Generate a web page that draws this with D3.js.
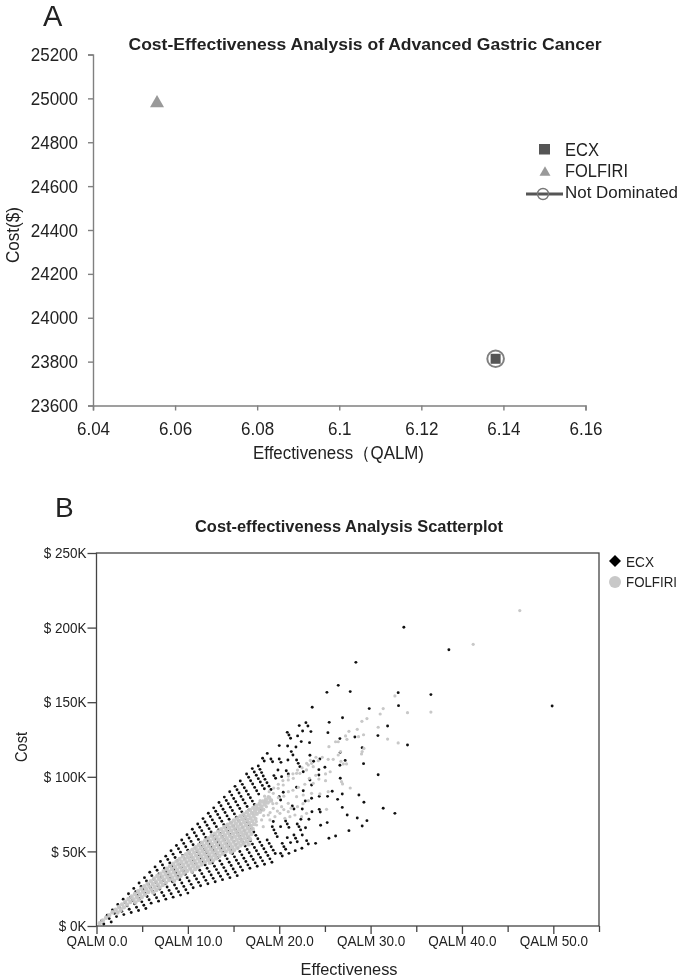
<!DOCTYPE html>
<html><head><meta charset="utf-8">
<script src="https://cdn.jsdelivr.net/npm/d3@7/dist/d3.min.js"></script>
<style>
html,body{margin:0;padding:0;background:#fff}
svg{display:block;filter:blur(0.3px)}
text{font-family:"Liberation Sans",Arial,sans-serif;fill:#222}
</style></head><body><svg id="c" width="685" height="980"></svg>
<script>
// Panel A
const titleA="Cost-Effectiveness  Analysis of Advanced Gastric  Cancer";
const xTicksA=[6.04,6.06,6.08,6.1,6.12,6.14,6.16];
const yTicksA=[23600,23800,24000,24200,24400,24600,24800,25000,25200];
const ecxA=[6.1381,23813];
const folfiriA=[6.0556,24978];
const legendA=["ECX","FOLFIRI","Not Dominated"];
// Panel B
const titleB="Cost-effectiveness Analysis Scatterplot";
const xMajorB=[0,10,20,30,40,50];
const xMinorB=[5,15,25,35,45,55];
const yTicksB=[0,50,100,150,200,250];
const legendB=["ECX","FOLFIRI"];
// ECX: [effectiveness in QALM, cost in $K]
const ecxLattice=[[.58,3.6],[.8,1.35],[1.17,7.2],[1.39,4.95],[1.61,2.7],[1.75,10.8],[1.97,8.55],[2.19,6.3],
[2.33,14.4],[2.55,12.15],[2.77,9.9],[2.99,7.65],[2.92,18],[3.14,15.75],[3.36,13.5],[3.58,11.25],[3.8,9],
[3.5,21.6],[3.72,19.35],[3.94,17.1],[4.16,14.85],[4.38,12.6],[4.6,10.35],
[4.08,25.2],[4.3,22.95],[4.52,20.7],[4.74,18.45],[4.96,16.2],[5.18,13.95],[5.4,11.7],
[4.66,28.8],[4.88,26.55],[5.1,24.3],[5.32,22.05],[5.54,19.8],[5.76,17.55],[5.98,15.3],
[5.25,32.4],[5.47,30.15],[5.69,27.9],[5.91,25.65],[6.13,23.4],[6.35,21.15],[6.57,18.9],[6.79,16.65],
[5.83,36],[6.05,33.75],[6.27,31.5],[6.49,29.25],[6.71,27],[6.93,24.75],[7.15,22.5],[7.37,20.25],[7.59,18],
[6.41,39.6],[6.63,37.35],[6.85,35.1],[7.07,32.85],[7.29,30.6],[7.51,28.35],[7.73,26.1],[7.95,23.85],[8.17,21.6],[8.39,19.35],
[7,43.2],[7.22,40.95],[7.44,38.7],[7.66,36.45],[7.88,34.2],[8.1,31.95],[8.32,29.7],[8.54,27.45],[8.76,25.2],[8.98,22.95],[9.2,20.7],
[7.58,46.8],[7.8,44.55],[8.02,42.3],[8.24,40.05],[8.46,37.8],[8.68,35.55],[8.9,33.3],[9.12,31.05],[9.34,28.8],[9.56,26.55],[9.78,24.3],[10,22.05],
[8.16,50.4],[8.38,48.15],[8.6,45.9],[8.82,43.65],[9.04,41.4],[9.26,39.15],[9.48,36.9],[9.7,34.65],[9.92,32.4],[10.14,30.15],[10.36,27.9],[10.58,25.65],
[8.75,54],[8.97,51.75],[9.19,49.5],[9.41,47.25],[9.63,45],[9.85,42.75],[10.07,40.5],[10.29,38.25],[10.51,36],[10.73,33.75],[10.95,31.5],[11.17,29.25],[11.39,27],
[9.33,57.6],[9.55,55.35],[9.77,53.1],[9.99,50.85],[10.21,48.6],[10.43,46.35],[10.65,44.1],[10.87,41.85],[11.09,39.6],[11.31,37.35],[11.53,35.1],[11.75,32.85],[11.97,30.6],[12.19,28.35],
[9.91,61.2],[10.13,58.95],[10.35,56.7],[10.57,54.45],[10.79,52.2],[11.01,49.95],[11.23,47.7],[11.45,45.45],[11.67,43.2],[11.89,40.95],[12.11,38.7],[12.33,36.45],[12.55,34.2],[12.77,31.95],[12.99,29.7],
[10.49,64.8],[10.71,62.55],[10.93,60.3],[11.15,58.05],[11.37,55.8],[11.59,53.55],[11.81,51.3],[12.03,49.05],[12.25,46.8],[12.47,44.55],[12.69,42.3],[12.91,40.05],[13.13,37.8],[13.35,35.55],[13.57,33.3],[13.79,31.05],
[11.08,68.4],[11.3,66.15],[11.52,63.9],[11.74,61.65],[11.96,59.4],[12.18,57.15],[12.4,54.9],[12.62,52.65],[12.84,50.4],[13.06,48.15],[13.28,45.9],[13.5,43.65],[13.72,41.4],[13.94,39.15],[14.16,36.9],[14.38,34.65],[14.6,32.4],
[11.66,72],[11.88,69.75],[12.1,67.5],[12.32,65.25],[12.54,63],[12.76,60.75],[12.98,58.5],[13.2,56.25],[13.42,54],[13.64,51.75],[13.86,49.5],[14.08,47.25],[14.3,45],[14.52,42.75],[14.74,40.5],[14.96,38.25],[15.18,36],[15.4,33.75],
[12.24,75.6],[12.46,73.35],[12.68,71.1],[12.9,68.85],[13.12,66.6],[13.34,64.35],[13.56,62.1],[13.78,59.85],[14,57.6],[14.22,55.35],[14.44,53.1],[14.66,50.85],[14.88,48.6],[15.1,46.35],[15.32,44.1],[15.54,41.85],[15.76,39.6],[15.98,37.35],
[12.83,79.2],[13.05,76.95],[13.27,74.7],[13.49,72.45],[13.71,70.2],[13.93,67.95],[14.15,65.7],[14.37,63.45],[14.59,61.2],[14.81,58.95],[15.03,56.7],[15.25,54.45],[15.47,52.2],[15.69,49.95],[15.91,47.7],[16.13,45.45],[16.35,43.2],[16.57,40.95],[16.79,38.7],
[13.41,82.8],[13.63,80.55],[13.85,78.3],[14.07,76.05],[14.29,73.8],[14.51,71.55],[14.73,69.3],[14.95,67.05],[15.17,64.8],[15.39,62.55],[15.61,60.3],[15.83,58.05],[16.05,55.8],[16.27,53.55],[16.49,51.3],[16.71,49.05],[16.93,46.8],[17.15,44.55],[17.37,42.3],[17.59,40.05],
[13.99,86.4],[14.21,84.15],[14.43,81.9],[14.65,79.65],[14.87,77.4],[15.09,75.15],[15.31,72.9],[15.53,70.65],[15.75,68.4],[15.97,66.15],[16.19,63.9],[16.41,61.65],[16.63,59.4],[16.85,57.15],[17.07,54.9],[17.29,52.65],[17.51,50.4],[17.73,48.15],[17.95,45.9],[18.17,43.65],[18.39,41.4],
[14.58,90],[14.8,87.75],[15.02,85.5],[15.24,83.25],[15.46,81],[15.68,78.75],[15.9,76.5],[16.12,74.25],[16.34,72],[16.56,69.75],[16.78,67.5],[17,65.25],[17.22,63],[17.44,60.75],[17.66,58.5],[17.88,56.25],[18.1,54],[18.32,51.75],[18.54,49.5],[18.76,47.25],[18.98,45],[19.2,42.75],
[15.16,93.6],[15.38,91.35],[15.6,89.1],[15.82,86.85],[16.04,84.6],[16.26,82.35],[16.48,80.1],[16.7,77.85],[18.68,57.6],[18.9,55.35],[19.12,53.1],[19.34,50.85],[19.56,48.6],
[15.74,97.2],[15.96,94.95],[16.18,92.7],[16.4,90.45],[16.62,88.2],[16.84,85.95],[17.06,83.7],[17.28,81.45],
[16.43,101.9],[16.65,99.65],[16.87,97.4],[17.09,95.15],[17.31,92.9],[17.53,90.65],[17.75,88.4],
[17.05,105.5],[17.27,103.25],[17.49,101],[17.71,98.75],[17.93,96.5],[18.15,94.25],[18.37,92],
[18.66,96],[18.88,93.75],[19.1,91.5]];
const ecxScatter=[[33.64,200.2],[38.57,185.2],[28.39,176.7],[26.46,161.3],[25.22,156.6],[27.77,157.1],[33.02,156.4],[36.6,155.1],[49.87,147.5],[33.06,147.7],[29.85,145.7],[23.61,146.6],[26.93,139.6],[25.47,136.5],[22.19,134.3],[22.92,136.3],[23.14,134],[31.86,134],[22.56,130.7],[23.47,130.3],[25.33,129.6],[20.88,129.8],[21.06,128],[21.24,125.8],[22.01,127.4],[28.28,126.7],[26.64,125.6],[30.8,127.6],[22.41,123.6],[23.32,122.9],[20,120.9],[20.92,120.6],[21.83,120],[29.08,119.5],[34.04,121.3],[21.32,116.9],[21.5,114.6],[18.69,115.7],[18.18,112.4],[18.36,110.6],[19.09,111.9],[19.27,110.1],[20,111.9],[20.19,109.7],[20.95,111.3],[23.36,114.4],[24.45,111.9],[23.76,110.4],[26.68,116.4],[27.22,111],[26.64,107.7],[29.23,108.8],[21.9,111.3],[22.08,109],[22.26,106.8],[17.71,107.2],[17.89,105],[18.07,102.8],[18.25,100.5],[18.44,98.3],[19.86,104.6],[20.77,104.1],[20.99,101.9],[22.63,103.4],[24.34,104.8],[25,106.4],[24.34,101.2],[19.42,100.8],[19.6,99],[20.26,100.1],[30.83,101.4],[26.68,99],[23.36,97.9],[23.54,94.5],[21.9,93],[22.63,90.7],[20.44,89.6],[20,86.7],[20.15,84.5],[25.8,90.3],[28.72,87.8],[26.9,88.5],[26.39,84.9],[25.29,86.9],[24.38,86.9],[23.54,85.6],[22.85,83.8],[29.27,82.9],[26.9,79.5],[21.43,80.4],[21.61,78.4],[22.52,78.4],[23.58,76.6],[24.38,78.2],[24.49,76.4],[31.38,78.9],[32.66,75.5],[27.44,74.4],[28.54,72.4],[29.6,70.6],[29.08,67],[27.63,63.9],[26.17,60.3],[25.44,58.8],[25.25,69.3],[24.53,67.5],[23.25,71.5],[22.37,71.5],[21.97,68.4],[22.16,66.6],[22.34,64.4],[22.88,65.9],[20.7,70.4],[20.88,68.4],[21.06,66.1],[20.15,66.6],[19.24,66.6],[19.42,64.4],[19.6,62.1],[19.78,59.9],[22.52,61],[21.61,61],[21.79,58.8],[21.97,56.5],[23,57.2],[23.18,55],[23.98,55.4],[20.88,59.2],[21.24,55.9],[20.33,55.4],[20.51,53.2],[20.7,51.4],[22.48,52.1],[21.75,50.5],[21.06,48.7],[20.15,48.7],[20.33,46.9],[18.07,77.8],[19.35,70]];
// FOLFIRI: [effectiveness in QALM, cost in $K]
const folfiriBand=[[.35,1.9],[.7,3.7],[1.05,5.5],[1.4,7.3],[1.75,9.2],[2.1,11],[2.3,9],[2.45,12.7],[2.65,10.7],[2.8,14.5],[3,12.5],[3.15,16.3],[3.35,14.3],[3.5,18.1],[3.7,16.1],
[3.85,19.8],[4.05,17.8],[4.25,15.8],[4.2,21.5],[4.4,19.5],[4.6,17.5],[4.55,23.3],[4.75,21.3],[4.95,19.3],[4.9,25],[5.1,23],[5.3,21],[5.25,26.7],[5.45,24.7],[5.65,22.7],
[5.6,28.4],[5.8,26.4],[6,24.4],[6.2,22.4],[5.95,30.1],[6.15,28.1],[6.35,26.1],[6.55,24.1],[6.3,31.8],[6.5,29.8],[6.7,27.8],[6.9,25.8],[6.65,33.5],[6.85,31.5],[7.05,29.5],[7.25,27.5],
[7,35.1],[7.2,33.1],[7.4,31.1],[7.6,29.1],[7.35,36.8],[7.55,34.8],[7.75,32.8],[7.95,30.8],[7.7,38.4],[7.9,36.4],[8.1,34.4],[8.3,32.4],[8.5,30.4],[8.05,40.1],[8.25,38.1],[8.45,36.1],[8.65,34.1],[8.85,32.1],
[8.4,41.7],[8.6,39.7],[8.8,37.7],[9,35.7],[9.2,33.7],[8.75,43.3],[8.95,41.3],[9.15,39.3],[9.35,37.3],[9.55,35.3],[9.1,44.9],[9.3,42.9],[9.5,40.9],[9.7,38.9],[9.9,36.9],
[9.45,46.5],[9.65,44.5],[9.85,42.5],[10.05,40.5],[10.25,38.5],[10.45,36.5],[9.8,48.1],[10,46.1],[10.2,44.1],[10.4,42.1],[10.6,40.1],[10.8,38.1],[10.15,49.6],[10.35,47.6],[10.55,45.6],[10.75,43.6],[10.95,41.6],[11.15,39.6],
[10.5,51.2],[10.7,49.2],[10.9,47.2],[11.1,45.2],[11.3,43.2],[11.5,41.2],[10.85,52.8],[11.05,50.8],[11.25,48.8],[11.45,46.8],[11.65,44.8],[11.85,42.8],
[11.2,54.3],[11.4,52.3],[11.6,50.3],[11.8,48.3],[12,46.3],[12.2,44.3],[12.4,42.3],[11.55,55.9],[11.75,53.9],[11.95,51.9],[12.15,49.9],[12.35,47.9],[12.55,45.9],[12.75,43.9],
[11.9,57.4],[12.1,55.4],[12.3,53.4],[12.5,51.4],[12.7,49.4],[12.9,47.4],[13.1,45.4],[12.25,58.9],[12.45,56.9],[12.65,54.9],[12.85,52.9],[13.05,50.9],[13.25,48.9],[13.45,46.9],
[12.6,60.5],[12.8,58.5],[13,56.5],[13.2,54.5],[13.4,52.5],[13.6,50.5],[13.8,48.5],[12.95,61.9],[13.15,59.9],[13.35,57.9],[13.55,55.9],[13.75,53.9],[13.95,51.9],[14.15,49.9],
[13.3,63.4],[13.5,61.4],[13.7,59.4],[13.9,57.4],[14.1,55.4],[14.3,53.4],[14.5,51.4],[14.7,49.4],[13.65,64.8],[13.85,62.8],[14.05,60.8],[14.25,58.8],[14.45,56.8],[14.65,54.8],[14.85,52.8],[15.05,50.8],
[14,66.4],[14.2,64.4],[14.4,62.4],[14.6,60.4],[14.8,58.4],[15,56.4],[15.2,54.4],[15.4,52.4],[14.35,67.9],[14.55,65.9],[14.75,63.9],[14.95,61.9],[15.15,59.9],[15.35,57.9],[15.55,55.9],[15.75,53.9],
[14.7,69.2],[14.9,67.2],[15.1,65.2],[15.3,63.2],[15.5,61.2],[15.7,59.2],[15.9,57.2],[16.1,55.2],[15.05,70.7],[15.25,68.7],[15.45,66.7],[15.65,64.7],[15.85,62.7],[16.05,60.7],[16.25,58.7],[16.45,56.7],[16.65,54.7],
[15.4,72.1],[15.6,70.1],[15.8,68.1],[16,66.1],[16.2,64.1],[16.4,62.1],[16.6,60.1],[16.8,58.1],[15.75,73.6],[15.95,71.6],[16.15,69.6],[16.35,67.6],[16.55,65.6],[16.75,63.6],[16.95,61.6],
[16.1,75],[16.3,73],[16.5,71],[16.7,69],[16.9,67],[17.1,65],[16.45,76.3],[16.65,74.3],[16.85,72.3],[17.05,70.3],[17.25,68.3],[16.8,77.8],[17,75.8],[17.2,73.8],[17.4,71.8],
[17.15,79.2],[17.35,77.2],[17.55,75.2],[17.5,80.6],[17.7,78.6],[17.9,76.6],[17.85,82],[18.05,80],[18.25,78],[18.2,83.4],[18.4,81.4],[18.55,84.8],[18.75,82.8],[18.9,86],[19.1,84]];
const folfiriScatter=[[46.33,211.4],[41.23,188.8],[32.66,154.2],[31.38,145.7],[31.05,142.1],[34.04,143],[36.6,143.4],[29.6,139],[29.05,137.2],[28.54,131.8],[27.63,130.5],[30.83,133.2],[29.23,128.2],[28.68,126.9],[27.26,127.4],[27.41,125.1],[31.86,125.3],[33.02,122.7],[26.46,123.5],[26.17,123.5],[25.44,120.2],[29.27,119],[29.08,116.9],[29.01,115.3],[26.71,116.9],[26.46,114.6],[24.02,113.1],[24.71,113.1],[25.36,111.7],[25.91,111.7],[24.27,110.8],[26.75,110.4],[27.37,108.6],[27.01,108.6],[23.54,109],[23.18,107.9],[23.72,106.8],[22.99,104.6],[22.26,102.3],[21.9,102.3],[21.54,99],[20.99,97.9],[20.44,94.5],[19.89,92.3],[19.35,88.9],[18.8,86.7],[18.44,83.3],[17.89,81.1],[17.52,78.9],[17.16,75.5],[25.07,101.9],[25.58,103.4],[24.34,98.5],[25.07,97.4],[23.72,95.6],[26.82,96.7],[26.93,95.2],[27.77,92.5],[25.36,90],[24.45,88.5],[23.54,88.9],[22.63,87.8],[21.9,86.7],[20.99,82.2],[20.26,80],[19.35,78.9],[19.16,84.5],[19.71,82.2],[25.18,78.2],[22.99,75.5],[22.45,73.3],[21.72,74.4],[21.17,73.3],[20.62,72.2],[20.99,76.6],[20.08,75.5],[19.53,73.3],[18.8,74.4],[18.07,71.1],[17.52,67.7],[16.79,64.4],[16.25,62.1],[18.98,71.1],[18.25,66.6],
[17.9,84],[18.4,87],[18.9,90],[19.4,92.5],[19.9,95],[20.4,97.5],[21,100.5],[21.5,102],[22,104.5],[22.5,106],[23,109],[23.4,111],[17.5,70],[18.3,74],[19,76],[19.8,77],[20.5,78],[21.3,79],[22,80],[22.6,82],[23.2,84],[18,79],[18.6,80],[19.3,82],[19.9,86],[20.5,87],[21,90],[21.5,91],[22.1,93],[22.8,95],[23.3,99],[24,101]];

const svg=d3.select("#c");
function label(x,y,t,o={}){
  const s=svg.append("text").attr("x",x).attr("y",y).text(t)
    .attr("font-size",o.size||16).attr("text-anchor",o.anchor||"start").attr("font-weight",o.weight||"normal");
  if(o.len) s.attr("textLength",o.len).attr("lengthAdjust","spacingAndGlyphs");
  if(o.rotate) s.attr("transform",`rotate(-90 ${x} ${y})`);
  return s;
}
// taller, narrower glyphs: keep the width found at refSize while drawing at size
function narrow(sel,refSize,size){
  sel.each(function(){
    const t=d3.select(this);
    t.attr("font-size",refSize);
    const w=this.getComputedTextLength();
    t.attr("font-size",size).attr("textLength",w).attr("lengthAdjust","spacingAndGlyphs");
  });
}
// ---------- Panel A
const xA=d3.scaleLinear().domain([6.04,6.16]).range([93,585.5]);
const yA=d3.scaleLinear().domain([23600,25200]).range([405.5,54.5]);
const axA=svg.append("g").attr("transform","translate(0,405.5)").call(d3.axisBottom(xA).tickValues(xTicksA).tickFormat(d3.format("~g")).tickSize(5).tickPadding(8));
const ayA=svg.append("g").attr("transform","translate(93,0)").call(d3.axisLeft(yA).tickValues(yTicksA).tickFormat(d3.format("d")).tickSize(5).tickPadding(10));
[axA,ayA].forEach(g=>{g.selectAll("path,line").attr("stroke","#808080").attr("stroke-width",1.4);
  g.selectAll("text").attr("font-family",'"Liberation Sans"').attr("fill","#222").call(narrow,17,19);});
axA.selectAll("text").attr("dy","0.85em");
label(365,49.5,titleA,{size:17,weight:"bold",anchor:"middle",len:473});
label(43,26,"A",{size:29});
label(253,459,"Effectiveness（QALM)",{size:17.5,len:171});
label(19,263,"Cost($)",{size:17.5,rotate:true,len:56});
const sym=(t,s)=>d3.symbol().type(t).size(s)();
svg.append("path").attr("d",sym(d3.symbolTriangle,85)).attr("transform",`translate(${xA(folfiriA[0])},${yA(folfiriA[1])})`).attr("fill","#999");
svg.append("circle").attr("cx",xA(ecxA[0])).attr("cy",yA(ecxA[1])).attr("r",8.3).attr("fill","#fff").attr("stroke","#808080").attr("stroke-width",2);
svg.append("rect").attr("x",xA(ecxA[0])-5).attr("y",yA(ecxA[1])-5).attr("width",10).attr("height",10).attr("fill","#555");
svg.append("rect").attr("x",539).attr("y",144).attr("width",11).attr("height",10.5).attr("fill","#555");
svg.append("path").attr("d",sym(d3.symbolTriangle,52)).attr("transform","translate(545,172.5)").attr("fill","#999");
svg.append("line").attr("x1",526).attr("x2",563).attr("y1",194).attr("y2",194).attr("stroke","#555").attr("stroke-width",3);
svg.append("circle").attr("cx",543).attr("cy",194).attr("r",5.5).attr("fill","none").attr("stroke","#777").attr("stroke-width",1.4);
legendA.forEach((t,i)=>label(565,[155.5,177,198][i],t,{size:i==2?17:18.5,len:[34,63,113][i]}));
// ---------- Panel B
const xB=d3.scaleLinear().domain([0,55]).range([96.5,599]);
const yB=d3.scaleLinear().domain([0,250]).range([926,553]);
svg.append("rect").attr("x",96.5).attr("y",553).attr("width",502.5).attr("height",373).attr("fill","none").attr("stroke","#444").attr("stroke-width",1.3);
const axB=svg.append("g").attr("transform","translate(0,926)").call(d3.axisBottom(xB).tickValues(xMajorB).tickFormat(d=>"QALM "+d3.format(".1f")(d)).tickSize(8).tickPadding(2));
const axB2=svg.append("g").attr("transform","translate(0,926)").call(d3.axisBottom(xB).tickValues(xMinorB).tickFormat("").tickSize(6));
const ayB=svg.append("g").attr("transform","translate(96.5,0)").call(d3.axisLeft(yB).tickValues(yTicksB).tickFormat(d=>"$ "+d+"K").tickSize(9).tickPadding(1));
[axB,axB2,ayB].forEach(g=>{g.select("path.domain").attr("stroke","none");g.selectAll("line").attr("stroke","#444").attr("stroke-width",1.3);
  g.selectAll("text").attr("font-family",'"Liberation Sans"').attr("fill","#222").call(narrow,13.5,14.5);});
const dots=(data,r,fill,op)=>svg.append("g").selectAll("circle").data(data).join("circle")
  .attr("cx",d=>xB(d[0])).attr("cy",d=>yB(d[1])).attr("r",r).attr("fill",fill).attr("opacity",op);
dots(ecxLattice,1.45,"#111",1);
dots(ecxScatter,1.45,"#111",1);
dots(folfiriBand,2.2,"#c8c8c8",.97);
dots(folfiriScatter,1.6,"#c8c8c8",1);
label(349,532,titleB,{size:16,weight:"bold",anchor:"middle",len:308});
label(55,517,"B",{size:28});
label(349,975,"Effectiveness",{size:16,anchor:"middle",len:97});
label(27,762,"Cost",{size:16,rotate:true,len:30});
svg.append("path").attr("d",sym(d3.symbolSquare,72)).attr("transform","translate(615,561) rotate(45)").attr("fill","#000");
svg.append("circle").attr("cx",615).attr("cy",582).attr("r",6).attr("fill","#c8c8c8");
legendB.forEach((t,i)=>label(626,[567,587][i],t,{size:14.5,len:[28,51][i]}));
</script></body></html>
